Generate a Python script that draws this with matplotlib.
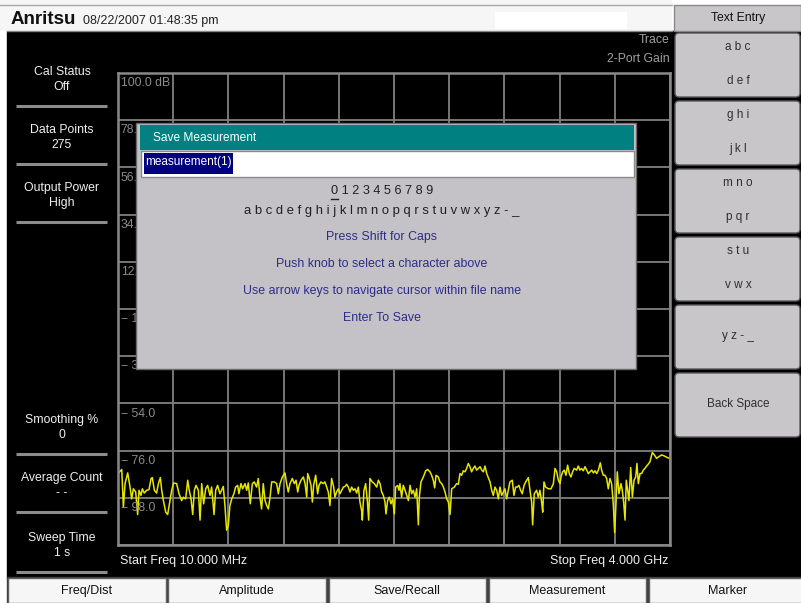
import matplotlib.pyplot as plt
from matplotlib.patches import Rectangle, FancyBboxPatch
import numpy as np

plt.rcParams['font.family'] = ['Liberation Sans', 'DejaVu Sans']

# ---- trace data (2-Port Gain) ----
freq_mhz = [
    10, 37, 49, 61, 80, 97, 109, 121, 138, 152, 162, 176, 186, 200, 217, 234, 249, 258,
    273, 289, 302, 316, 326, 338, 355, 369, 386, 398, 412, 434, 451, 470, 482, 499,
    514, 523, 538, 550, 562, 574, 591, 603, 615, 629, 644, 658, 675, 687, 704, 716,
    730, 747, 759, 771, 783, 795, 807, 819, 832, 848, 860, 875, 884, 899, 911, 928,
    940, 952, 966, 981, 995, 1012, 1024,
    1036, 1048, 1060, 1073, 1085, 1097, 1109, 1121, 1140, 1157, 1169, 1181, 1198, 1217,
    1229, 1241, 1253, 1270, 1285, 1297, 1309, 1318, 1333, 1350, 1362, 1374, 1381, 1393,
    1405, 1415, 1424, 1439, 1453, 1463, 1477, 1494, 1506, 1518, 1530, 1542, 1554, 1569,
    1578, 1590, 1603, 1615, 1627, 1639, 1651, 1663, 1675, 1687, 1699, 1711, 1723, 1735,
    1747, 1759, 1771, 1776, 1788, 1800, 1812, 1822, 1831, 1848, 1863, 1880, 1892, 1904,
    1916, 1928, 1940, 1947, 1959, 1971, 1983, 1995, 2007, 2017, 2031, 2041,
    2048, 2060, 2072, 2085, 2097, 2109, 2121, 2133, 2145, 2157, 2169, 2181, 2188, 2200,
    2217, 2234, 2248, 2265, 2277, 2289, 2299, 2309, 2325, 2337, 2350, 2362, 2374, 2386,
    2398, 2410, 2422, 2441, 2458, 2470, 2482, 2494, 2506, 2518, 2530, 2542, 2554, 2566,
    2578, 2590, 2602, 2615, 2627, 2639, 2651, 2663, 2675, 2687, 2699, 2711, 2723, 2735,
    2747, 2759, 2771, 2783, 2795, 2807, 2819, 2831, 2843, 2860, 2872, 2884, 2896, 2908,
    2920, 2932, 2945, 2957, 2976, 2988, 3000, 3007, 3019, 3036, 3048, 3060,
    3072, 3080, 3089, 3101, 3121, 3140, 3157, 3169, 3181, 3193, 3205, 3212, 3224, 3236,
    3248, 3260, 3272, 3284, 3296, 3308, 3325, 3337, 3349, 3361, 3373, 3386, 3398, 3410,
    3422, 3434, 3446, 3458, 3470, 3482, 3496, 3506, 3518, 3530, 3542, 3554, 3566, 3578,
    3590, 3600, 3610, 3619, 3631, 3646, 3655, 3665, 3675, 3684, 3694, 3703, 3716, 3728,
    3740, 3752, 3761, 3771, 3783, 3795, 3807, 3819, 3831, 3843, 3855, 3872, 3887, 3903,
    3920, 3940, 3959, 3976, 3995, 4000,
]
gain_db = [
    -86.7, -84.8, -102.4, -91.4, -86.4, -93.0, -98.5, -93.8, -95.3, -105.8, -94.5, -96.9,
    -93.8, -95.8, -94.5, -94.2, -89.0, -88.6, -94.5, -95.8, -91.4, -88.6, -94.5, -99.3,
    -104.7, -105.8, -99.3, -94.5, -91.1, -91.4, -96.1, -99.3, -97.7, -98.5, -89.8, -93.8,
    -98.5, -105.8, -94.5, -92.2, -94.5, -108.4, -91.4, -100.8, -93.8, -92.2, -96.9, -93.0,
    -105.8, -94.5, -92.2, -96.1, -94.5, -92.7, -101.6, -113.1, -111.0, -101.6, -98.5, -96.1,
    -93.0, -92.2, -96.1, -91.4, -93.8, -91.4, -94.5, -91.1, -100.8, -91.4, -90.6, -93.0,
    -89.0,
    -97.7, -103.2, -91.4, -99.3, -101.6, -103.2, -97.7, -90.6, -90.6, -91.4, -96.1, -91.4,
    -88.3, -86.4, -91.4, -95.3, -91.4, -89.0, -91.4, -89.8, -95.3, -92.2, -89.8, -88.3,
    -91.4, -97.7, -86.7, -89.0, -92.2, -100.0, -92.2, -87.5, -96.1, -92.2, -90.6, -91.4,
    -90.6, -93.0, -95.3, -101.6, -89.0, -93.0, -97.7, -95.3, -93.8, -96.1, -94.5, -93.0,
    -92.7, -91.7, -93.0, -95.3, -93.0, -94.5, -93.8, -95.8, -93.0, -100.0, -104.0, -108.4,
    -94.5, -91.4, -99.3, -108.4, -89.0, -90.6, -91.4, -93.0, -89.8, -91.4, -95.3, -96.9,
    -100.0, -105.5, -99.3, -97.7, -100.8, -98.5, -105.5, -93.0, -92.2, -94.5,
    -91.4, -97.7, -92.2, -94.5, -96.9, -99.3, -92.2, -96.1, -94.5, -97.7, -93.8, -110.6,
    -97.7, -90.6, -88.3, -85.4, -84.8, -85.9, -87.5, -89.8, -93.4, -87.5, -88.3, -90.6,
    -91.4, -93.0, -95.3, -98.5, -100.0, -105.8, -93.8, -93.0, -91.4, -91.7, -86.7, -87.5,
    -85.4, -85.9, -84.3, -82.0, -83.5, -85.9, -84.3, -83.2, -85.1, -84.3, -83.5, -85.1,
    -85.9, -83.2, -86.7, -88.6, -90.6, -94.5, -96.9, -93.0, -94.5, -98.5, -93.0, -96.9,
    -95.3, -93.8, -98.5, -94.5, -90.6, -89.8, -96.9, -93.0, -93.0, -92.2, -94.5, -96.1,
    -92.2, -90.6, -88.6, -94.5, -100.0, -110.6, -96.1, -94.5, -97.7, -94.5,
    -100.0, -104.7, -90.6, -93.0, -93.8, -93.8, -91.4, -84.3, -85.9, -89.8, -91.4, -88.3,
    -85.9, -85.1, -87.5, -82.8, -86.7, -88.3, -85.9, -84.3, -85.1, -83.2, -85.1, -84.3,
    -85.4, -83.5, -85.1, -86.7, -85.9, -85.1, -86.4, -85.4, -86.7, -85.1, -81.7, -85.1,
    -87.5, -87.5, -89.0, -93.8, -89.0, -91.4, -100.8, -114.2, -100.0, -85.9, -96.1, -91.4,
    -94.5, -100.0, -108.4, -89.8, -94.5, -99.3, -83.9, -97.7, -89.8, -88.3, -82.0, -91.4,
    -86.7, -86.7, -85.1, -84.3, -83.2, -82.3, -81.2, -76.9, -78.0, -79.6, -78.8, -78.0,
    -78.5, -79.1, -79.6, -79.6,
]

start_mhz, stop_mhz = 10, 4000
ref_top, db_per_div, n_div = 100.0, 22.0, 10
y_levels = [ref_top - db_per_div * i for i in range(n_div + 1)]

left_items = [("Cal Status", "Off", 72), ("Data Points", "275", 130),
              ("Output Power", "High", 188), ("Smoothing %", "0", 420),
              ("Average Count", "- -", 478), ("Sweep Time", "1 s", 538)]
soft_keys = [("a b c", "d e f"), ("g h i", "j k l"), ("m n o", "p q r"),
             ("s t u", "v w x"), ("y z - _", None), ("Back Space", None)]
bottom_keys = ["Freq/Dist", "Amplitude", "Save/Recall", "Measurement", "Marker"]
help_lines = ["Press Shift for Caps", "Push knob to select a character above",
              "Use arrow keys to navigate cursor within file name", "Enter To Save"]

W, H = 801, 603
fig = plt.figure(figsize=(W / 100, H / 100), dpi=100, facecolor='white')

# background / frame (pixel coordinates)
bg = fig.add_axes([0, 0, 1, 1], zorder=0)
bg.set_xlim(0, W)
bg.set_ylim(H, 0)
bg.axis('off')

bg.add_patch(Rectangle((7, 31), W - 7, 547, color='black'))
bg.add_patch(Rectangle((0, 0), 672, 31, facecolor='#f6f6f6', edgecolor='none'))
bg.add_patch(Rectangle((495, 12), 132, 17, facecolor='white', edgecolor='none'))
bg.plot([0, 672], [5, 5], color='#a8a8a8', lw=1)
bg.plot([7, 672], [31, 31], color='#888888', lw=1)
bg.text(11, 19, "Anritsu", fontsize=13.5, fontweight='bold', color='#111111', va='center')
bg.text(83, 21, "08/22/2007 01:48:35 pm", fontsize=9, color='#222222', va='center')

# left status panel
for title, value, ty in left_items:
    bg.text(62, ty, title, fontsize=8.8, color='#f0f0f0', ha='center', va='center')
    bg.text(62, ty + 15, value, fontsize=8.8, color='#f0f0f0', ha='center', va='center')
    bg.plot([16, 107], [ty + 34, ty + 34], color='#8c8c8c', lw=2.2, solid_capstyle='butt')

bg.text(670, 40, "Trace", fontsize=8.8, color='#a0a0a0', ha='right', va='center')
bg.text(670, 59, "2-Port Gain", fontsize=8.8, color='#a0a0a0', ha='right', va='center')
bg.text(120, 561, "Start Freq 10.000 MHz", fontsize=9, color='#f0f0f0', va='center')
bg.text(668, 561, "Stop Freq 4.000 GHz", fontsize=9, color='#f0f0f0', ha='right', va='center')

# right soft keys
bg.add_patch(Rectangle((674, 5), 127, 26, facecolor='#c8c6c8', edgecolor='#888888', lw=1))
bg.text(738, 18, "Text Entry", fontsize=8.8, color='#111111', ha='center', va='center')
for i, (l1, l2) in enumerate(soft_keys):
    top = 32 + 68 * i
    bg.add_patch(FancyBboxPatch((675, top + 1), 125, 64, boxstyle='round,pad=0,rounding_size=4',
                                facecolor='#c8c6c8', edgecolor='#5a5a5a', lw=1))
    if l2 is None:
        bg.text(738, top + 32, l1, fontsize=8.5, color='#303030', ha='center', va='center')
    else:
        bg.text(738, top + 15, l1, fontsize=8.5, color='#303030', ha='center', va='center')
        bg.text(738, top + 49, l2, fontsize=8.5, color='#303030', ha='center', va='center')

# bottom keys
bg.add_patch(Rectangle((7, 577), W - 7, 26, color='#3a3a3a'))
for i, name in enumerate(bottom_keys):
    x0 = 8 + 160.3 * i
    bg.add_patch(Rectangle((x0, 578), 157.5, 25, facecolor='#f6f6f6', edgecolor='#606060', lw=1))
    bg.text(x0 + 78.5, 591, name, fontsize=9, color='#111111', ha='center', va='center')

# ---- measurement graph ----
gx0, gy0, gx1, gy1 = 118, 73, 670, 545
ax = fig.add_axes([gx0 / W, 1 - gy1 / H, (gx1 - gx0) / W, (gy1 - gy0) / H], zorder=1)
ax.set_facecolor('black')
ax.set_xlim(start_mhz, stop_mhz)
ax.set_ylim(y_levels[-1], y_levels[0])
ax.set_xticks(np.linspace(start_mhz, stop_mhz, n_div + 1))
ax.set_yticks(y_levels)
ax.grid(True, color='#808080', lw=1.3)
ax.tick_params(length=0, labelleft=False, labelbottom=False)
for sp in ax.spines.values():
    sp.set_color('#8a8a8a')
    sp.set_linewidth(1.8)

for i, lvl in enumerate(y_levels[:-1]):
    lbl = "%.1f dB" % lvl if i == 0 else "%.1f" % lvl
    lbl = lbl.replace('-', '\u2212 ')
    ax.annotate(lbl, xy=(start_mhz, lvl), xytext=(2, -3), textcoords='offset points',
                fontsize=8.8, color='#8c8c8c', va='top', ha='left')

ax.plot(freq_mhz, gain_db, color='#e6e600', lw=1.1)

# ---- Save Measurement dialog ----
top = fig.add_axes([0, 0, 1, 1], zorder=5)
top.set_xlim(0, W)
top.set_ylim(H, 0)
top.axis('off')
top.patch.set_alpha(0)

top.add_patch(Rectangle((136, 123), 500, 246, facecolor='#c4c2c6', edgecolor='#6a6a6a', lw=1))
top.add_patch(Rectangle((140, 125), 494, 25, facecolor='#008080', edgecolor='none'))
top.text(153, 138, "Save Measurement", fontsize=8.6, color='white', va='center')
top.add_patch(Rectangle((141, 151), 493, 26, facecolor='white', edgecolor='#8a8a8a', lw=1))
top.add_patch(Rectangle((144, 153), 89, 21, facecolor='#000080', edgecolor='none'))
top.text(145, 162, "measurement(1)", fontsize=8.5, color='white', va='center')

cx = 382
top.text(cx, 191, "0 1 2 3 4 5 6 7 8 9", fontsize=9.2, color='#202020', ha='center', va='center')
top.plot([331, 338], [199, 199], color='#202020', lw=1)
top.text(cx, 211, "a b c d e f g h i j k l m n o p q r s t u v w x y z - _", fontsize=9.4,
         color='#202020', ha='center', va='center')
for i, line in enumerate(help_lines):
    top.text(cx, 237 + 27 * i, line, fontsize=8.9, color='#2c2c8c', ha='center', va='center')

fig.savefig('out.png', dpi=100, facecolor=fig.get_facecolor())
